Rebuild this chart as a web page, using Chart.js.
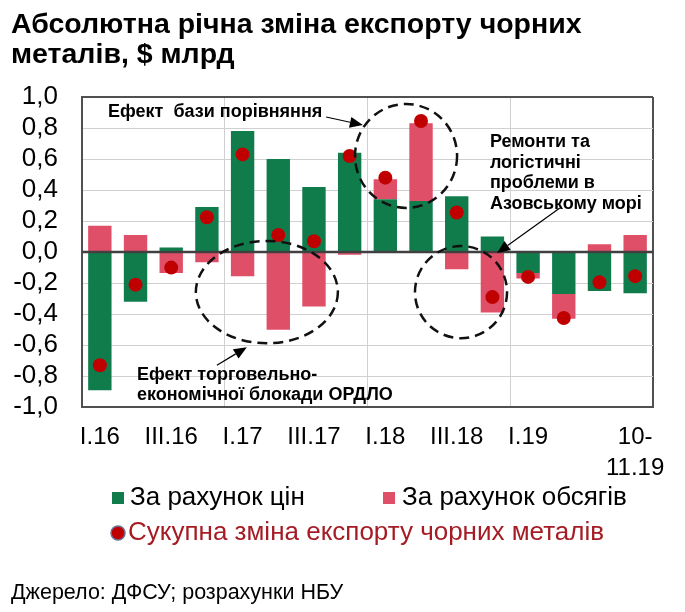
<!DOCTYPE html>
<html><head><meta charset="utf-8">
<script src="https://cdn.jsdelivr.net/npm/chart.js@4/dist/chart.umd.min.js"></script>
<style>html,body{margin:0;padding:0;background:#fff}</style>
</head><body>
<canvas id="c" width="685" height="612"></canvas>
<script>
// ---- data ----
const categories = ['I.16','II.16','III.16','IV.16','I.17','II.17','III.17','IV.17','I.18','II.18','III.18','IV.18','I.19','II.19','III.19','10-11.19'];
const xTickLabels = ['I.16','','III.16','','I.17','','III.17','','I.18','','III.18','','I.19','','',['10-','11.19']];
const priceEffect  = [-0.89,-0.32, 0.03, 0.29, 0.78, 0.60, 0.42, 0.64, 0.34, 0.33, 0.36, 0.10,-0.135,-0.27,-0.25,-0.265];
const volumeEffect = [ 0.17, 0.11,-0.135,-0.065,-0.155,-0.50,-0.35,-0.017, 0.13, 0.50,-0.11,-0.39,-0.035,-0.16, 0.05, 0.11];
const totalChange  = [-0.73,-0.21,-0.10, 0.225, 0.63, 0.11, 0.07, 0.62, 0.48, 0.845, 0.255,-0.29,-0.16,-0.425,-0.195,-0.155];
const seriesNames = ['За рахунок цін','За рахунок обсягів','Сукупна зміна експорту чорних металів'];
const yMin = -1, yMax = 1, yStep = 0.2;

// ---- annotations (chart units: x = category index, y = value) ----
const ellipses = [
  {cx: 8.58, cy: 0.62,  rx: 1.43, ry: 0.335},
  {cx: 4.68, cy: -0.258, rx: 1.99, ry: 0.33},
  {cx: 10.12, cy: -0.258, rx: 1.29, ry: 0.297}
];
const arrows = [
  {from: [6.34, 0.871], to: [7.37, 0.819]},
  {from: [3.28, -0.729], to: [4.12, -0.613]},
  {from: [12.89, 0.284], to: [11.13, -0.006]}
];
const notes = [
  {x: 0.23, y: [0.903], lines: ['Ефект  бази порівняння']},
  {x: 1.04, y: [-0.794, -0.923], lines: ['Ефект торговельно-', 'економічної блокади ОРДЛО']},
  {x: 10.93, y: [0.71, 0.574, 0.445, 0.31], lines: ['Ремонти та', 'логістичні', 'проблеми в', 'Азовському морі']}
];

const FONT = "'Liberation Sans', Arial, Helvetica, sans-serif";
const GREEN = '#107C4C', PINK = '#DF4F67', RED = '#C00000';
const DARK = '#505050', GRID = '#D0D0D0';

const annotPlugin = {
  id: 'annot',
  beforeDatasetDraw(chart, args) {
    if (args.index !== 2) return;
    const {ctx, chartArea, scales} = chart;
    const y0 = scales.y.getPixelForValue(0);
    ctx.save();
    ctx.strokeStyle = '#404040'; ctx.lineWidth = 2.5;
    ctx.beginPath(); ctx.moveTo(chartArea.left, y0); ctx.lineTo(chartArea.right, y0); ctx.stroke();
    ctx.restore();
  },
  afterDatasetsDraw(chart) {
    const {ctx, scales} = chart;
    const px = v => scales.x.getPixelForValue(v);
    const py = v => scales.y.getPixelForValue(v);
    const cw = px(1) - px(0);
    const uh = py(0) - py(1);
    ctx.save();
    ctx.strokeStyle = '#111'; ctx.lineWidth = 2.5; ctx.setLineDash([10, 6]);
    ellipses.forEach(e => {
      ctx.beginPath();
      ctx.ellipse(px(e.cx), py(e.cy), e.rx * cw, e.ry * uh, 0, 0, Math.PI * 2);
      ctx.stroke();
    });
    ctx.setLineDash([]);
    ctx.lineWidth = 1.2; ctx.fillStyle = '#000'; ctx.strokeStyle = '#000';
    arrows.forEach(a => {
      const x1 = px(a.from[0]), y1 = py(a.from[1]), x2 = px(a.to[0]), y2 = py(a.to[1]);
      const ang = Math.atan2(y2 - y1, x2 - x1);
      const L = 13, W = 5.5;
      const bx = x2 - L * Math.cos(ang), by = y2 - L * Math.sin(ang);
      ctx.beginPath(); ctx.moveTo(x1, y1); ctx.lineTo(bx, by); ctx.stroke();
      ctx.beginPath();
      ctx.moveTo(x2, y2);
      ctx.lineTo(bx + W * Math.sin(ang), by - W * Math.cos(ang));
      ctx.lineTo(bx - W * Math.sin(ang), by + W * Math.cos(ang));
      ctx.closePath(); ctx.fill();
    });
    ctx.font = 'bold 18px ' + FONT; ctx.textBaseline = 'middle'; ctx.textAlign = 'left';
    notes.forEach(n => n.lines.forEach((t, i) => ctx.fillText(t, px(n.x), py(n.y[i]))));
    ctx.restore();
  },
  afterDraw(chart) {
    const {ctx} = chart;
    const ds = chart.data.datasets;
    ctx.save();
    ctx.textBaseline = 'middle'; ctx.textAlign = 'left';
    ctx.font = '26px ' + FONT;
    // row 1: squares
    const items = [{ds: ds[0], bx: 112, tx: 130, y: 498}, {ds: ds[1], bx: 383, tx: 402, y: 498}];
    items.forEach(it => {
      ctx.fillStyle = it.ds.backgroundColor;
      ctx.fillRect(it.bx, it.y - 6, 12, 12);
      ctx.fillStyle = '#000';
      ctx.fillText(it.ds.label, it.tx, it.y);
    });
    // row 2: dot
    ctx.beginPath(); ctx.arc(118, 533, 7, 0, Math.PI * 2);
    ctx.fillStyle = ds[2].backgroundColor; ctx.fill();
    ctx.lineWidth = 1.5; ctx.strokeStyle = '#6E6E96'; ctx.stroke();
    ctx.fillStyle = '#A51C24';
    ctx.fillText(ds[2].label, 128, 533);
    ctx.restore();
  }
};

new Chart(document.getElementById('c'), {
  data: {
    labels: categories,
    datasets: [
      {type: 'bar', label: seriesNames[0], data: priceEffect, backgroundColor: GREEN, order: 1, stack: 'bars',
       barPercentage: 0.655, categoryPercentage: 1.0},
      {type: 'bar', label: seriesNames[1], data: volumeEffect, backgroundColor: PINK, order: 2, stack: 'bars',
       barPercentage: 0.655, categoryPercentage: 1.0},
      {type: 'line', label: seriesNames[2], data: totalChange, showLine: false, stack: 'dots', order: 0,
       backgroundColor: RED, borderColor: RED, pointRadius: 7, pointBorderWidth: 0, pointHoverRadius: 7}
    ]
  },
  options: {
    responsive: false,
    animation: false,
    devicePixelRatio: 1,
    events: [],
    layout: {padding: {left: 11, right: 32, top: 0, bottom: 0}},
    plugins: {
      legend: {display: false},
      tooltip: {enabled: false},
      title: {
        display: true, align: 'start', color: '#000',
        text: ['Абсолютна річна зміна експорту чорних', 'металів, $ млрд'],
        font: {family: FONT, size: 28.5, weight: 'bold', lineHeight: 30 / 28.5},
        padding: {top: 10, bottom: 27}
      },
      subtitle: {
        display: true, position: 'bottom', align: 'start', color: '#000',
        text: 'Джерело: ДФСУ; розрахунки НБУ',
        font: {family: FONT, size: 21.5, lineHeight: 1.2},
        padding: {top: 59, bottom: 6}
      }
    },
    scales: {
      x: {
        stacked: true,
        offset: true,
        afterFit: s => { s.height = 114; },
        border: {display: true, color: DARK, width: 2},
        grid: {
          offset: true, drawTicks: false,
          color: c => (c.index === undefined || c.index === 0) ? DARK : (c.index % 4 === 0 ? GRID : 'rgba(0,0,0,0)'),
          lineWidth: c => (c.index === undefined || c.index === 0) ? 2 : 1
        },
        ticks: {
          autoSkip: false, maxRotation: 0, minRotation: 0, padding: 15, color: '#000',
          font: {family: FONT, size: 24, lineHeight: 1.28},
          callback: (v, i) => xTickLabels[i]
        }
      },
      y: {
        stacked: true,
        min: yMin, max: yMax,
        afterFit: s => { s.width = 71; },
        border: {display: true, color: DARK, width: 2},
        grid: {
          drawTicks: false,
          color: c => (Math.abs(c.tick.value) > 0.999) ? DARK : GRID,
          lineWidth: c => (Math.abs(c.tick.value) > 0.999) ? 2 : 1
        },
        ticks: {
          autoSkip: false, stepSize: yStep, padding: 24, color: '#000',
          font: {family: FONT, size: 26},
          callback: v => (Math.abs(v) < 1e-9 ? 0 : v).toFixed(1).replace('.', ',')
        }
      }
    }
  },
  plugins: [annotPlugin]
});
</script>
</body></html>
